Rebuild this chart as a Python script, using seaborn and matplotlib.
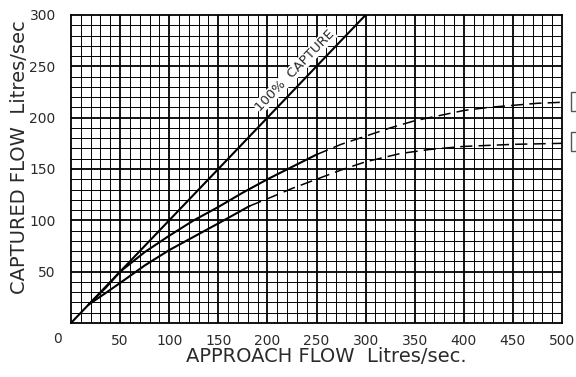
import matplotlib
matplotlib.use("Agg")
import matplotlib.pyplot as plt
import matplotlib.patches as mpatches
import numpy as np
import pandas as pd
import seaborn as sns

# ---- data ----
full_x = [0, 300]
full_y = [0, 300]

mid_solid_x = [18, 35, 50, 75, 100, 125, 150, 175, 200, 225, 250]
mid_solid_y = [18, 34, 50, 69, 85, 100, 113, 127, 140, 152, 164]
mid_dash_x = [250, 275, 300, 325, 350, 375, 400, 425, 450, 475, 500]
mid_dash_y = [164, 174, 182, 190, 197, 202, 207, 210, 212, 214, 215]

low_solid_x = [18, 35, 50, 75, 100, 125, 150, 182]
low_solid_y = [18, 29, 39, 56, 71, 84, 97, 114]
low_dash_x = [182, 200, 225, 250, 275, 300, 335, 365, 400, 450, 500]
low_dash_y = [114, 121, 131, 140, 149, 157, 165, 169, 172, 174, 175]

x_ticks = [50, 100, 150, 200, 250, 300, 350, 400, 450, 500]
y_ticks = [50, 100, 150, 200, 250, 300]

sns.set_theme(style="white")
plt.rcParams["font.family"] = ["DejaVu Sans"]

fig = plt.figure(figsize=(5.76, 3.77), dpi=100)
ax = fig.add_axes([71/576, 1-323/377, (562-71)/576, (323-15)/377])

def frame(xs, ys, name):
    return pd.DataFrame({"x": xs, "y": ys, "series": name})

df_solid = pd.concat([frame(full_x, full_y, "full"),
                      frame(mid_solid_x, mid_solid_y, "mid"),
                      frame(low_solid_x, low_solid_y, "low")])
df_dash = pd.concat([frame(mid_dash_x, mid_dash_y, "mid"),
                     frame(low_dash_x, low_dash_y, "low")])

sns.lineplot(data=df_solid, x="x", y="y", units="series", estimator=None,
             sort=False, color="black", lw=1.5, ax=ax, zorder=5)
sns.lineplot(data=df_dash, x="x", y="y", units="series", estimator=None,
             sort=False, color="black", lw=1.1, ax=ax, zorder=5,
             dashes=False, linestyle=(0, (8, 4)))

ax.set_xlim(0, 500)
ax.set_ylim(0, 300)

# grid
for v in range(10, 500, 10):
    ax.axvline(v, color="black", lw=1.3 if v % 50 == 0 else 0.7, zorder=1)
for v in range(10, 300, 10):
    ax.axhline(v, color="black", lw=1.3 if v % 50 == 0 else 0.7, zorder=1)

for s in ax.spines.values():
    s.set_visible(True)
    s.set_color("black")
    s.set_linewidth(1.3)

txt = "#2a2a2a"
ax.set_xticks(x_ticks)
ax.set_yticks(y_ticks)
ax.set_xticklabels([str(t) for t in x_ticks])
ax.set_yticklabels([str(t) for t in y_ticks])
ax.tick_params(axis="both", length=0, labelsize=10, colors=txt)
ax.tick_params(axis="x", pad=8)
ax.tick_params(axis="y", pad=11)
ax.text(-14, -16, "0", fontsize=10, color=txt, ha="center", va="center",
        clip_on=False)

ax.set_xlabel("APPROACH FLOW  Litres/sec.", fontsize=14, color=txt)
ax.set_ylabel("CAPTURED FLOW  Litres/sec", fontsize=14, color=txt)
ax.xaxis.set_label_coords((326.5-71)/491, -(357-323)/308)
ax.yaxis.set_label_coords(-(71-20)/491, (323-157)/308)
ax.xaxis.label.set_va("center")
ax.yaxis.label.set_va("center")

ax.text(228, 246, "100%  CAPTURE", rotation=46, fontsize=9.5, color=txt,
        ha="center", va="center", rotation_mode="anchor", zorder=6,
        bbox=dict(facecolor="white", edgecolor="none", pad=0.5))

for ytop in (91.7, 131.7):
    r = mpatches.Rectangle((570.7/576, 1-(ytop+19)/377), 0.05, 19/377,
                           transform=fig.transFigure, facecolor="white",
                           edgecolor="#555555", lw=1.0, clip_on=False)
    fig.patches.append(r)

fig.savefig("out.png", dpi=100)
